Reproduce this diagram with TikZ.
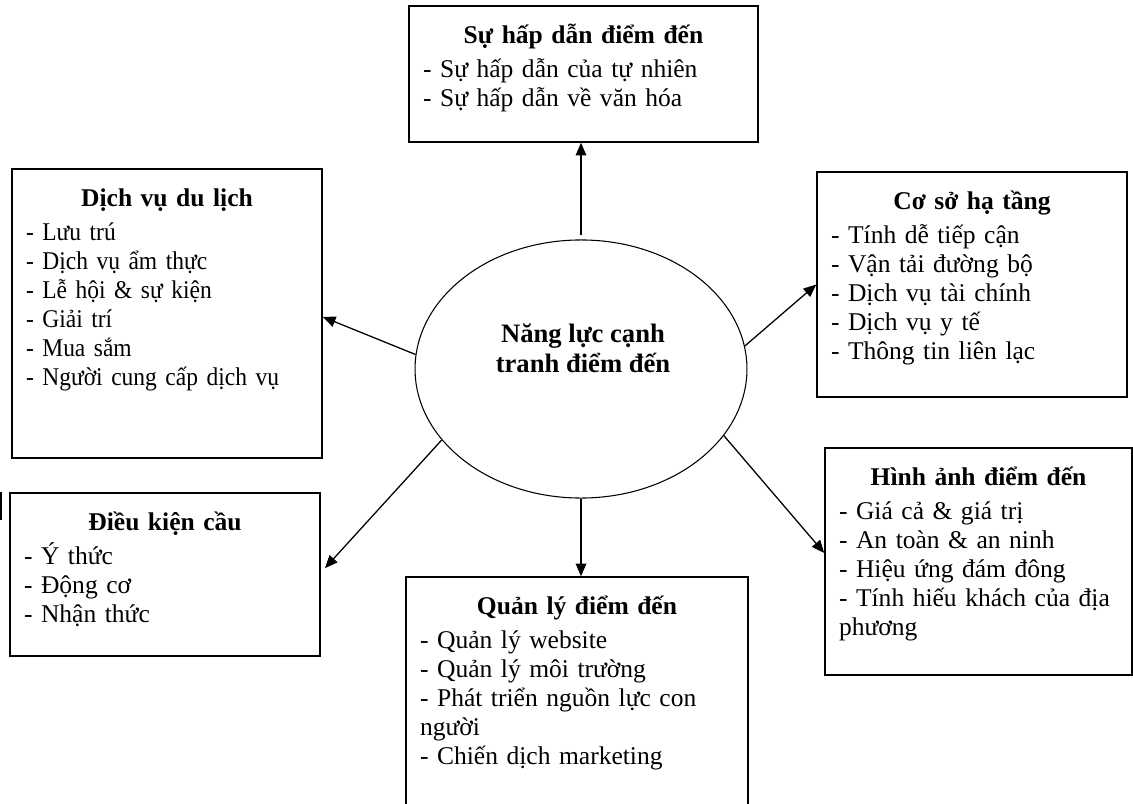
\documentclass[tikz,border=0pt]{standalone}
\usepackage{fontspec}
\setmainfont{Liberation Serif}
\usetikzlibrary{shapes.geometric,arrows.meta}

\tikzset{
  box/.style={draw, line width=0.7pt, inner sep=0pt},
  boxtext/.style={anchor=north, align=left, text width=#1, inner xsep=0pt, inner ysep=6.6pt,
    font=\fontsize{12}{13.6}\selectfont},
  arr/.style={line width=0.6pt, -{Triangle[length=6pt,width=5pt]}},
}
\newcommand{\boxtitle}[1]{{\centering\bfseries\rule{0pt}{11pt}#1\par}\vspace{2.5pt}}

\begin{document}
\begin{tikzpicture}[x=0.47pt, y=-0.47pt]
  \useasboundingbox (0,0) rectangle (1133,803);
  \clip (0,0) rectangle (1133,803);

  % centre
  \node[draw, ellipse, line width=0.5pt, minimum width=156pt, minimum height=121.3pt, inner sep=0pt] (nl) at (581,369) {};
  \node[align=center, font=\bfseries\fontsize{12.5}{14.1}\selectfont] (nltext) at (583,348) {Năng lực cạnh\\tranh điểm đến};

  % boxes
  \node[box, minimum width=164pt, minimum height=63.9pt] (hd) at (583.5,74) {};
  \node[boxtext=150.8pt] (hdtext) at (hd.north) {\boxtitle{Sự hấp dẫn điểm đến}
    - Sự hấp dẫn của tự nhiên\\
    - Sự hấp dẫn về văn hóa};

  \node[box, minimum width=145.7pt, minimum height=135.8pt] (dv) at (167,313.5) {};
  \node[boxtext=132.5pt] (dvtext) at (dv.north) {\boxtitle{Dịch vụ du lịch}
    \addfontfeatures{FakeStretch=0.92}%
    - Lưu trú\\
    - Dịch vụ ẩm thực\\
    - Lễ hội \& sự kiện\\
    - Giải trí\\
    - Mua sắm\\
    - Người cung cấp dịch vụ};

  \node[box, minimum width=145.7pt, minimum height=105.75pt] (cs) at (972,284.5) {};
  \node[boxtext=132.5pt] (cstext) at (cs.north) {\boxtitle{Cơ sở hạ tầng}
    - Tính dễ tiếp cận\\
    - Vận tải đường bộ\\
    - Dịch vụ tài chính\\
    - Dịch vụ y tế\\
    - Thông tin liên lạc};

  \node[box, minimum width=144.3pt, minimum height=106.7pt] (ha) at (978.5,561.5) {};
  \node[boxtext=131.1pt] (hatext) at (ha.north) {\boxtitle{Hình ảnh điểm đến}
    - Giá cả \& giá trị\\
    - An toàn \& an ninh\\
    - Hiệu ứng đám đông\\
    - Tính hiếu khách của địa\\
    phương};

  \node[box, minimum width=145.7pt, minimum height=76.6pt] (dk) at (165,574.5) {};
  \node[boxtext=132.5pt] (dktext) at (dk.north) {\boxtitle{Điều kiện cầu}
    - Ý thức\\
    - Động cơ\\
    - Nhận thức};

  \node[box, minimum width=160.7pt, minimum height=123.6pt] (ql) at (577,708.5) {};
  \node[boxtext=147.5pt] (qltext) at (ql.north) {\boxtitle{Quản lý điểm đến}
    - Quản lý website\\
    - Quản lý môi trường\\
    - Phát triển nguồn lực con\\
    người\\
    - Chiến dịch marketing};

  % stray edge at the left border
  \draw[line width=0.7pt] (1,492) -- (1,520);

  % arrows
  \draw[arr] ([yshift=2pt]nl.north) -- (nl.north |- hd.south);
  \draw[arr] (nl.175) -- ([yshift=-1.6pt]dv.east);
  \draw[arr] (nl.8) -- (cs.west);
  \draw[arr] (nl.207) -- ([xshift=2pt,yshift=3pt]dk.east);
  \draw[arr] (nl.south) -- (nl.south |- ql.north);
  \draw[arr] (nl.335) -- ([yshift=4pt]ha.west);
\end{tikzpicture}
\end{document}
